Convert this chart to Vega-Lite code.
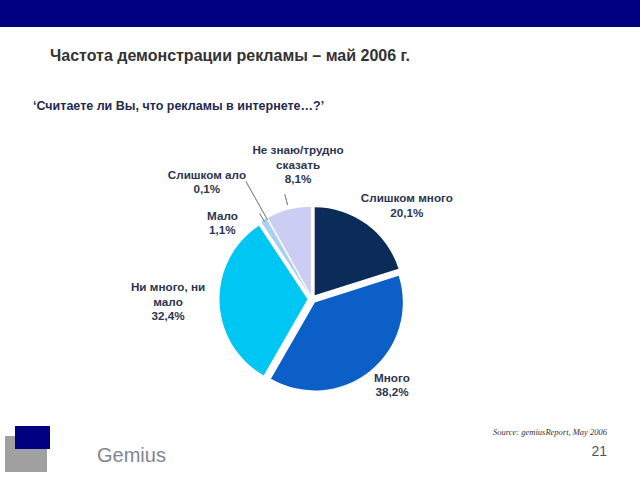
{
  "$schema": "https://vega.github.io/schema/vega-lite/v6.json",
  "padding": 0,
  "background": "white",
  "spacing": 3,
  "config": {
    "view": {"stroke": null},
    "font": "Liberation Sans",
    "title": {"font": "Liberation Sans"}
  },
  "datasets": {
    "none": [],
    "pie": [
      {"i": 1, "cat": "Слишком много", "value": 20.1, "lbl": "Слишком много\n20,1%"},
      {"i": 2, "cat": "Много", "value": 38.2, "lbl": "Много\n38,2%"},
      {"i": 3, "cat": "Ни много, ни мало", "value": 32.4, "lbl": "Ни много, ни\nмало\n32,4%"},
      {"i": 4, "cat": "Мало", "value": 1.1, "lbl": "Мало\n1,1%"},
      {"i": 5, "cat": "Слишком мало", "value": 0.1, "lbl": "Слишком ало\n0,1%"},
      {"i": 6, "cat": "Не знаю/трудно сказать", "value": 8.1, "lbl": "Не знаю/трудно\nсказать\n8,1%"}
    ]
  },
  "vconcat": [
    {
      "spacing": 35,
      "vconcat": [
        {
          "width": 640,
          "height": 27,
          "view": {"fill": "#000080", "stroke": null},
          "title": {
            "text": "Частота демонстрации рекламы – май 2006 г.",
            "orient": "bottom",
            "anchor": "start",
            "frame": "group",
            "offset": 21,
            "dx": 50,
            "fontSize": 16,
            "fontWeight": "bold",
            "color": "#333333"
          },
          "data": {"name": "none"},
          "mark": {"type": "rect"},
          "encoding": {}
        },
        {
          "width": 624,
          "height": 248,
          "title": {
            "text": "‘Считаете ли Вы, что рекламы в интернете…?’",
            "orient": "top",
            "anchor": "start",
            "frame": "group",
            "offset": 26,
            "dx": 33,
            "fontSize": 12.5,
            "fontWeight": "bold",
            "color": "#1f2a50"
          },
          "data": {"name": "pie"},
          "layer": [
            {
              "mark": {
                "type": "arc",
                "radius": 88,
                "xOffset": {"expr": "4.5*sin(PI*(datum.value_start+datum.value_end)/100)"},
                "yOffset": {"expr": "-4.5*cos(PI*(datum.value_start+datum.value_end)/100)"}
              },
              "encoding": {
                "theta": {"field": "value", "type": "quantitative", "stack": true},
                "order": {"field": "i", "type": "quantitative"},
                "color": {
                  "field": "cat",
                  "type": "nominal",
                  "scale": {
                    "domain": ["Слишком много", "Много", "Ни много, ни мало", "Мало", "Слишком мало", "Не знаю/трудно сказать"],
                    "range": ["#0b2b58", "#0b5fc6", "#00c6f4", "#a8d0f0", "#d8e4f4", "#cccdf2"]
                  },
                  "legend": null
                }
              }
            },
            {
              "mark": {"type": "arc", "radius": 100, "radius2": 91, "padAngle": 3, "filled": false, "stroke": "#808080", "strokeWidth": 0.8},
              "encoding": {
                "theta": {"field": "value", "type": "quantitative", "stack": true},
                "order": {"field": "i", "type": "quantitative"},
                "detail": {"field": "cat"},
                "strokeOpacity": {"condition": {"test": "datum.cat === 'Мало'", "value": 1}, "value": 0}
              }
            },
            {
              "mark": {"type": "arc", "radius": 135, "radius2": 91, "padAngle": 3, "filled": false, "stroke": "#808080", "strokeWidth": 0.8},
              "encoding": {
                "theta": {"field": "value", "type": "quantitative", "stack": true},
                "order": {"field": "i", "type": "quantitative"},
                "detail": {"field": "cat"},
                "strokeOpacity": {"condition": {"test": "datum.cat === 'Слишком мало'", "value": 1}, "value": 0}
              }
            },
            {
              "mark": {"type": "arc", "radius": 108, "radius2": 97, "padAngle": 3, "filled": false, "stroke": "#808080", "strokeWidth": 0.8},
              "encoding": {
                "theta": {"field": "value", "type": "quantitative", "stack": true},
                "order": {"field": "i", "type": "quantitative"},
                "detail": {"field": "cat"},
                "strokeOpacity": {"condition": {"test": "datum.cat === 'Не знаю/трудно сказать'", "value": 1}, "value": 0}
              }
            },
            {
              "mark": {"type": "text", "radius": 120, "dx": 24, "dy": -4, "align": "center", "baseline": "middle", "lineBreak": "\n", "lineHeight": 14.5, "fontSize": 11.7, "fontWeight": "bold", "fill": "#2b3550"},
              "encoding": {
                "theta": {"field": "value", "type": "quantitative", "stack": true},
                "order": {"field": "i", "type": "quantitative"},
                "detail": {"field": "cat"},
                "text": {"condition": {"test": "datum.cat === 'Слишком много'", "field": "lbl", "type": "nominal"}, "value": ""}
              }
            },
            {
              "mark": {"type": "text", "radius": 116.7, "dx": 6.7, "dy": -12.3, "align": "center", "baseline": "middle", "lineBreak": "\n", "lineHeight": 14.5, "fontSize": 11.7, "fontWeight": "bold", "fill": "#2b3550"},
              "encoding": {
                "theta": {"field": "value", "type": "quantitative", "stack": true},
                "order": {"field": "i", "type": "quantitative"},
                "detail": {"field": "cat"},
                "text": {"condition": {"test": "datum.cat === 'Много'", "field": "lbl", "type": "nominal"}, "value": ""}
              }
            },
            {
              "mark": {"type": "text", "radius": 144, "dx": 0, "dy": -16.5, "align": "center", "baseline": "middle", "lineBreak": "\n", "lineHeight": 14.5, "fontSize": 11.7, "fontWeight": "bold", "fill": "#2b3550"},
              "encoding": {
                "theta": {"field": "value", "type": "quantitative", "stack": true},
                "order": {"field": "i", "type": "quantitative"},
                "detail": {"field": "cat"},
                "text": {"condition": {"test": "datum.cat === 'Ни много, ни мало'", "field": "lbl", "type": "nominal"}, "value": ""}
              }
            },
            {
              "mark": {"type": "text", "radius": 112.3, "dx": -30.9, "dy": 12.3, "align": "center", "baseline": "middle", "lineBreak": "\n", "lineHeight": 14.5, "fontSize": 11.7, "fontWeight": "bold", "fill": "#2b3550"},
              "encoding": {
                "theta": {"field": "value", "type": "quantitative", "stack": true},
                "order": {"field": "i", "type": "quantitative"},
                "detail": {"field": "cat"},
                "text": {"condition": {"test": "datum.cat === 'Мало'", "field": "lbl", "type": "nominal"}, "value": ""}
              }
            },
            {
              "mark": {"type": "text", "radius": 120, "dx": -46.3, "dy": -19.4, "align": "center", "baseline": "middle", "lineBreak": "\n", "lineHeight": 14.5, "fontSize": 11.7, "fontWeight": "bold", "fill": "#2b3550"},
              "encoding": {
                "theta": {"field": "value", "type": "quantitative", "stack": true},
                "order": {"field": "i", "type": "quantitative"},
                "detail": {"field": "cat"},
                "text": {"condition": {"test": "datum.cat === 'Слишком мало'", "field": "lbl", "type": "nominal"}, "value": ""}
              }
            },
            {
              "mark": {"type": "text", "radius": 133.2, "dx": 19.6, "dy": -19.6, "align": "center", "baseline": "middle", "lineBreak": "\n", "lineHeight": 14.5, "fontSize": 11.7, "fontWeight": "bold", "fill": "#2b3550"},
              "encoding": {
                "theta": {"field": "value", "type": "quantitative", "stack": true},
                "order": {"field": "i", "type": "quantitative"},
                "detail": {"field": "cat"},
                "text": {"condition": {"test": "datum.cat === 'Не знаю/трудно сказать'", "field": "lbl", "type": "nominal"}, "value": ""}
              }
            }
          ]
        }
      ]
    },
    {
      "spacing": 0,
      "hconcat": [
        {
          "spacing": 0,
          "vconcat": [
            {
              "spacing": 0,
              "hconcat": [
                {"width": 15, "height": 10, "data": {"name": "none"}, "mark": {"type": "rect"}, "encoding": {}},
                {"width": 35, "height": 10, "view": {"fill": "#000080", "stroke": null}, "data": {"name": "none"}, "mark": {"type": "rect"}, "encoding": {}}
              ]
            },
            {
              "spacing": 0,
              "hconcat": [
                {"width": 5, "height": 13, "data": {"name": "none"}, "mark": {"type": "rect"}, "encoding": {}},
                {"width": 10, "height": 13, "view": {"fill": "#a0a0a0", "stroke": null}, "data": {"name": "none"}, "mark": {"type": "rect"}, "encoding": {}},
                {"width": 35, "height": 13, "view": {"fill": "#000080", "stroke": null}, "data": {"name": "none"}, "mark": {"type": "rect"}, "encoding": {}}
              ]
            },
            {
              "spacing": 0,
              "hconcat": [
                {"width": 5, "height": 23, "data": {"name": "none"}, "mark": {"type": "rect"}, "encoding": {}},
                {"width": 42, "height": 23, "view": {"fill": "#a0a0a0", "stroke": null}, "data": {"name": "none"}, "mark": {"type": "rect"}, "encoding": {}}
              ]
            }
          ]
        },
        {"width": 47, "height": 16, "data": {"name": "none"}, "mark": {"type": "rect"}, "encoding": {}},
        {
          "width": 80,
          "height": 16,
          "title": {
            "text": "Gemius",
            "orient": "bottom",
            "anchor": "start",
            "frame": "group",
            "offset": 4,
            "fontSize": 20,
            "fontWeight": "normal",
            "color": "#80868f"
          },
          "data": {"name": "none"},
          "mark": {"type": "rect"},
          "encoding": {}
        },
        {"width": 316, "height": 16, "data": {"name": "none"}, "mark": {"type": "rect"}, "encoding": {}},
        {
          "width": 110,
          "height": 1,
          "title": {
            "text": "Source: gemiusReport, May 2006",
            "subtitle": "21",
            "orient": "bottom",
            "anchor": "end",
            "frame": "group",
            "offset": 1,
            "font": "Liberation Serif",
            "fontStyle": "italic",
            "fontWeight": "normal",
            "fontSize": 8.5,
            "color": "#333333",
            "subtitleFont": "Liberation Sans",
            "subtitleFontSize": 14,
            "subtitleColor": "#555555",
            "subtitlePadding": 8
          },
          "data": {"name": "none"},
          "mark": {"type": "rect"},
          "encoding": {}
        }
      ]
    }
  ]
}
